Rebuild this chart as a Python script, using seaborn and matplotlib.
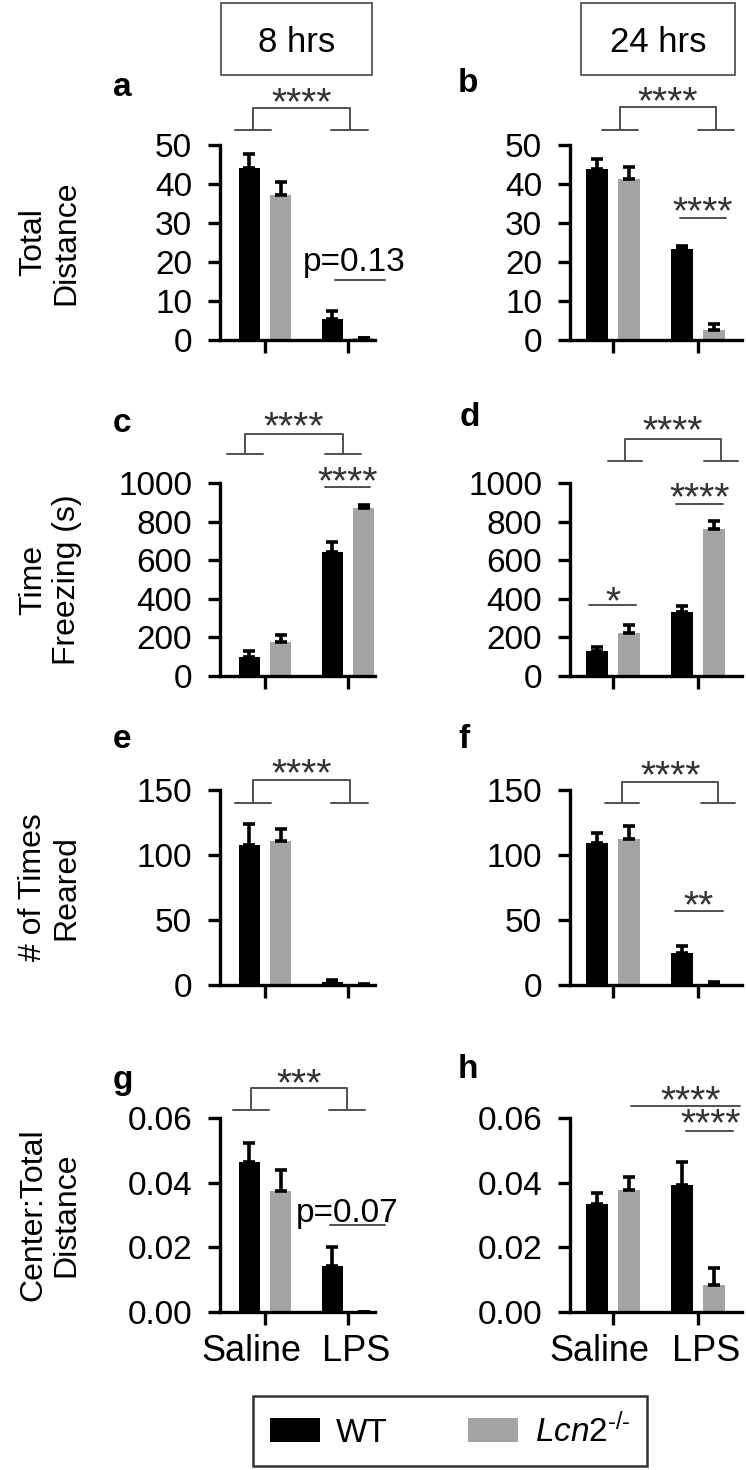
import numpy as np
import pandas as pd
import seaborn as sns
import matplotlib.pyplot as plt
from matplotlib.patches import Rectangle, Patch
from matplotlib.transforms import ScaledTranslation

# данные (среднее и SEM, только верхний ус)
groups = ["Saline", "LPS"]
genotypes = ["WT", "Lcn2"]
colors = ["#000000", "#a4a4a4"]

dist_8_wt, dist_8_wt_err = [44.0, 5.5], [3.6, 2.0]
dist_8_ko, dist_8_ko_err = [37.3, 0.4], [3.2, 0.2]
dist_24_wt, dist_24_wt_err = [43.8, 23.3], [2.6, 0.8]
dist_24_ko, dist_24_ko_err = [41.3, 2.5], [3.0, 1.5]

freeze_8_wt, freeze_8_wt_err = [100, 640], [30, 55]
freeze_8_ko, freeze_8_ko_err = [175, 870], [35, 15]
freeze_24_wt, freeze_24_wt_err = [130, 333], [20, 30]
freeze_24_ko, freeze_24_ko_err = [224, 760], [40, 42]

rear_8_wt, rear_8_wt_err = [108, 2.5], [16, 1.5]
rear_8_ko, rear_8_ko_err = [111, 0.3], [9, 0.2]
rear_24_wt, rear_24_wt_err = [109, 25], [8, 5]
rear_24_ko, rear_24_ko_err = [112, 1.0], [10, 1.0]

center_8_wt, center_8_wt_err = [0.0464, 0.0142], [0.0059, 0.0059]
center_8_ko, center_8_ko_err = [0.0374, 0.0], [0.0065, 0.0]
center_24_wt, center_24_wt_err = [0.0334, 0.0393], [0.0034, 0.0071]
center_24_ko, center_24_ko_err = [0.0377, 0.0084], [0.0041, 0.0052]

ylabels = ["Total\nDistance", "Time\nFreezing (s)", "# of Times\nReared", "Center:Total\nDistance"]
yticks_rows = [[0, 10, 20, 30, 40, 50], [0, 200, 400, 600, 800, 1000], [0, 50, 100, 150], [0, 0.02, 0.04, 0.06]]

sns.set_style("ticks")
plt.rcParams["font.family"] = ["Liberation Sans", "DejaVu Sans"]
plt.rcParams["mathtext.fontset"] = "custom"
plt.rcParams["mathtext.rm"] = "Liberation Sans"
plt.rcParams["mathtext.it"] = "Liberation Sans:italic"
plt.rcParams["text.color"] = "black"
plt.rcParams["xtick.color"] = "black"
plt.rcParams["ytick.color"] = "black"

W, H = 746, 1470
fig = plt.figure(figsize=(W / 100, H / 100), dpi=100)

# колонки: левый край, ширина, xlim (в пикселях исходника)
cols = [(220, 155, (-0.542, 1.325)), (570, 172, (-0.506, 1.518))]
rows = [(145, 340), (483, 676), (790, 985), (1118, 1312)]

FS = 24
LINE_C = "#505050"
STAR_FS = 28


def stars(ax, x, y, s):
    ax.annotate(s, (x, y), xytext=(0, -0.44 * STAR_FS), textcoords="offset points",
                ha="center", va="baseline", fontsize=STAR_FS, color="#333333", annotation_clip=False)


def bracket(ax, x1, x2, top, foot, half, s, sy):
    ax.plot([x1, x1, x2, x2], [foot, top, top, foot], color=LINE_C, lw=1.4, clip_on=False)
    ax.plot([x1 - half, x1 + half], [foot, foot], color=LINE_C, lw=1.4, clip_on=False)
    ax.plot([x2 - half, x2 + half], [foot, foot], color=LINE_C, lw=1.4, clip_on=False)
    stars(ax, (x1 + x2) / 2, sy, s)


def hline(ax, x1, x2, y):
    ax.plot([x1, x2], [y, y], color=LINE_C, lw=1.4, clip_on=False)


def panel(ci, ri, wt, ko, wt_err, ko_err):
    l, w, xl = cols[ci]
    t, b = rows[ri]
    ax = fig.add_axes([l / W, 1 - b / H, w / W, (b - t) / H])
    df = pd.DataFrame({"group": groups * 2,
                       "genotype": [genotypes[0]] * 2 + [genotypes[1]] * 2,
                       "value": list(wt) + list(ko)})
    sns.barplot(data=df, x="group", y="value", hue="genotype", palette=colors, saturation=1,
                width=0.75, gap=0.33, errorbar=None, legend=False, linewidth=0, ax=ax)
    for cont, err in zip(ax.containers, [wt_err, ko_err]):
        xs = [p.get_x() + p.get_width() / 2 for p in cont]
        ys = [p.get_height() for p in cont]
        ax.errorbar(xs, ys, yerr=[np.zeros(len(err)), err], fmt="none", ecolor="black",
                    elinewidth=2.6, capsize=4.5, capthick=2.6, zorder=3)
    yt = yticks_rows[ri]
    ax.set_ylim(0, yt[-1])
    ax.set_yticks(yt)
    if ri == 3:
        ax.set_yticklabels([f"{v:.2f}" for v in yt])
    ax.set_xlim(*xl)
    ax.set_xlabel("")
    ax.set_ylabel("")
    sns.despine(ax=ax)
    for sp in ["left", "bottom"]:
        ax.spines[sp].set_linewidth(2.4)
        ax.spines[sp].set_color("black")
    ax.tick_params(axis="both", length=9, width=2.4, color="black", labelsize=FS)
    ax.tick_params(axis="y", pad=11)
    ax.tick_params(axis="x", pad=7, labelsize=26)
    if ri < 3:
        ax.set_xticklabels([])
    else:
        # подписи Saline/LPS слегка разведены, как на оригинале
        for lab, dx in zip(ax.get_xticklabels(), [-14, 8]):
            lab.set_transform(lab.get_transform() + ScaledTranslation(dx / 100, 0, fig.dpi_scale_trans))
    return ax


ax_a = panel(0, 0, dist_8_wt, dist_8_ko, dist_8_wt_err, dist_8_ko_err)
ax_b = panel(1, 0, dist_24_wt, dist_24_ko, dist_24_wt_err, dist_24_ko_err)
ax_c = panel(0, 1, freeze_8_wt, freeze_8_ko, freeze_8_wt_err, freeze_8_ko_err)
ax_d = panel(1, 1, freeze_24_wt, freeze_24_ko, freeze_24_wt_err, freeze_24_ko_err)
ax_e = panel(0, 2, rear_8_wt, rear_8_ko, rear_8_wt_err, rear_8_ko_err)
ax_f = panel(1, 2, rear_24_wt, rear_24_ko, rear_24_wt_err, rear_24_ko_err)
ax_g = panel(0, 3, center_8_wt, center_8_ko, center_8_wt_err, center_8_ko_err)
ax_h = panel(1, 3, center_24_wt, center_24_ko, center_24_wt_err, center_24_ko_err)

# значимость
bracket(ax_a, -0.145, 1.02, 59.5, 53.8, 0.22, "****", 62.3)
hline(ax_a, 0.84, 1.45, 15.4)
ax_a.text(1.07, 20, "p=0.13", ha="center", va="center", fontsize=FS, clip_on=False)

bracket(ax_b, 0.08, 1.21, 59.8, 53.9, 0.21, "****", 62.6)
hline(ax_b, 0.79, 1.33, 31.4)
stars(ax_b, 1.05, 34.3, "****")

bracket(ax_c, -0.24, 0.94, 1255, 1151, 0.22, "****", 1318)
hline(ax_c, 0.72, 1.27, 979)
stars(ax_c, 1.0, 1036, "****")

bracket(ax_d, 0.14, 1.27, 1229, 1115, 0.2, "****", 1297)
hline(ax_d, 0.74, 1.29, 891)
stars(ax_d, 1.02, 953, "****")
hline(ax_d, -0.28, 0.27, 370)
stars(ax_d, 0.0, 411, "*")

bracket(ax_e, -0.145, 1.02, 158, 140, 0.22, "****", 167)

bracket(ax_f, 0.11, 1.24, 156, 140, 0.2, "****", 165)
hline(ax_f, 0.73, 1.29, 57)
stars(ax_f, 1.01, 65, "**")

bracket(ax_g, -0.17, 0.99, 0.0693, 0.0625, 0.22, "***", 0.0724)
hline(ax_g, 0.78, 1.45, 0.0269)
ax_g.text(0.99, 0.0306, "p=0.07", ha="center", va="center", fontsize=FS, clip_on=False)

hline(ax_h, 0.21, 1.49, 0.0637)
stars(ax_h, 0.91, 0.0671, "****")
hline(ax_h, 0.86, 1.41, 0.0560)
stars(ax_h, 1.15, 0.0600, "****")

# подписи осей y
for (t, b), lab in zip(rows, ylabels):
    fig.text(50 / W, 1 - (t + b) / 2 / H, lab, rotation=90, ha="center", va="center",
             fontsize=23, linespacing=1.15)

# буквы панелей
for letter, x, y in [("a", 113, 88), ("b", 458, 83), ("c", 113, 423), ("d", 460, 417),
                     ("e", 113, 740), ("f", 458, 740), ("g", 113, 1080), ("h", 458, 1070)]:
    fig.text(x / W, 1 - y / H, letter, ha="left", va="center", fontsize=24, fontweight="bold")

# заголовки колонок в рамках
for label, x0, x1 in [("8 hrs", 221, 372), ("24 hrs", 581, 735)]:
    fig.add_artist(Rectangle((x0 / W, 1 - 75 / H), (x1 - x0) / W, 72 / H, transform=fig.transFigure,
                             fill=False, edgecolor="#555555", lw=1.3))
    fig.text((x0 + x1) / 2 / W, 1 - 42 / H, label, ha="center", va="center", fontsize=25)

handles = [Patch(facecolor=colors[0], edgecolor="none"), Patch(facecolor=colors[1], edgecolor="none")]
leg = fig.legend(handles, ["WT", r"$\mathit{Lcn2}^{\text{-/-}}$"], loc="center",
                 bbox_to_anchor=(450 / W, 1 - 1431 / H), ncol=2, fontsize=FS, frameon=True,
                 fancybox=False, edgecolor="black", handlelength=1.5, handleheight=0.75,
                 handletextpad=0.5, columnspacing=2.4, borderpad=0.5, borderaxespad=0)
leg.get_frame().set_linewidth(1.8)

fig.savefig("out.png", dpi=100)
